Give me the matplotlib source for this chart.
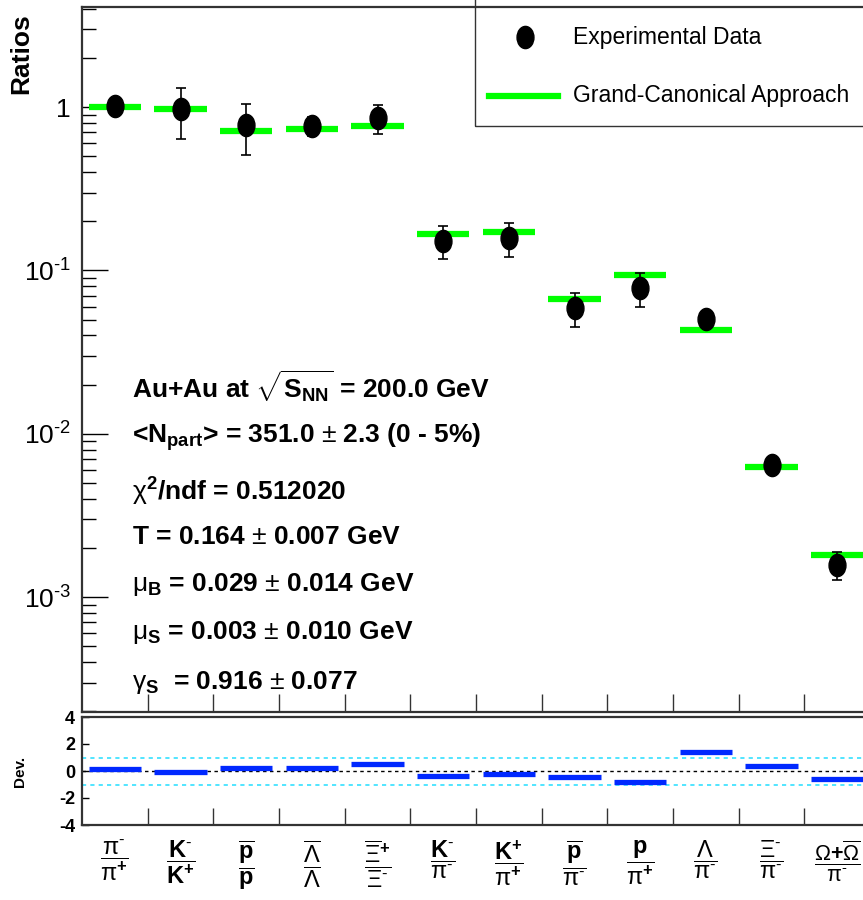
import numpy as np
import matplotlib
matplotlib.use('Agg')
import matplotlib.pyplot as plt
from matplotlib.path import Path
from matplotlib.patches import Rectangle
from matplotlib.ticker import FixedLocator, LogLocator, FuncFormatter, NullFormatter

plt.rcParams['font.family'] = ['Liberation Sans', 'DejaVu Sans']
plt.rcParams['mathtext.fontset'] = 'custom'
plt.rcParams['mathtext.rm'] = 'Liberation Sans'
plt.rcParams['mathtext.it'] = 'Liberation Sans:italic'
plt.rcParams['mathtext.bf'] = 'Liberation Sans:bold'
plt.rcParams['mathtext.default'] = 'regular'

# ratio labels (x axis)
ratio_labels = [
    r'$\dfrac{\mathrm{\pi}^{\text{-}}}{\mathrm{\pi}^{+}}$',
    r'$\dfrac{K^{\text{-}}}{K^{+}}$',
    r'$\dfrac{\overline{p}}{p}$',
    r'$\dfrac{\overline{\mathrm{\Lambda}}}{\mathrm{\Lambda}}$',
    r'$\dfrac{\overline{\mathrm{\Xi}}^{+}}{\mathrm{\Xi}^{\text{-}}}$',
    r'$\dfrac{K^{\text{-}}}{\mathrm{\pi}^{\text{-}}}$',
    r'$\dfrac{K^{+}}{\mathrm{\pi}^{+}}$',
    r'$\dfrac{\overline{p}}{\mathrm{\pi}^{\text{-}}}$',
    r'$\dfrac{p}{\mathrm{\pi}^{+}}$',
    r'$\dfrac{\mathrm{\Lambda}}{\mathrm{\pi}^{\text{-}}}$',
    r'$\dfrac{\mathrm{\Xi}^{\text{-}}}{\mathrm{\pi}^{\text{-}}}$',
    r'$\dfrac{\mathrm{\Omega}{+}\overline{\mathrm{\Omega}}}{\mathrm{\pi}^{\text{-}}}$',
]

# experimental data
data_val = [1.02, 0.97, 0.776, 0.765, 0.853, 0.152, 0.158, 0.059, 0.078, 0.0505, 0.00646, 0.00158]
data_err = [0.03, 0.33, 0.27, 0.10, 0.17, 0.034, 0.037, 0.014, 0.018, 0.003, 0.0004, 0.0003]

# grand-canonical fit
model_val = [1.0, 0.98, 0.716, 0.733, 0.768, 0.167, 0.172, 0.067, 0.094, 0.043, 0.0063, 0.0018]

# deviation (lower panel)
dev_val = [0.15, -0.05, 0.22, 0.22, 0.5, -0.35, -0.2, -0.45, -0.8, 1.43, 0.37, -0.57]

info_lines = [
    r'Au+Au at $\sqrt{S_{NN}}$ = 200.0 GeV',
    r'<N$_{part}$> = 351.0 $\mathrm{\pm}$ 2.3 (0 - 5%)',
    r'$\mathrm{\chi}^{2}$/ndf = 0.512020',
    r'T = 0.164 $\mathrm{\pm}$ 0.007 GeV',
    r'$\mathrm{\mu}_{B}$ = 0.029 $\mathrm{\pm}$ 0.014 GeV',
    r'$\mathrm{\mu}_{S}$ = 0.003 $\mathrm{\pm}$ 0.010 GeV',
    r'$\mathrm{\gamma}_{S}$  = 0.916 $\mathrm{\pm}$ 0.077',
]
info_y = [387, 437, 492, 537, 585, 632, 682]  # pixel rows

W, H = 863, 900
fig = plt.figure(figsize=(W / 100, H / 100), dpi=100)

def fbox(x0, y0, x1, y1):
    return [x0 / W, 1 - y1 / H, (x1 - x0) / W, (y1 - y0) / H]

ax = fig.add_axes(fbox(82, 7, 870, 712))
axd = fig.add_axes(fbox(82, 717, 870, 825))

x = np.arange(len(ratio_labels))
spine_col = '#333333'

# ellipse marker like ROOT's stretched circle
circ = Path.unit_circle()
ell = Path(circ.vertices * np.array([0.76, 1.0]), circ.codes)

ax.hlines(model_val, x - 0.4, x + 0.4, color='#00ff00', lw=4.5, zorder=2)
ax.errorbar(x, data_val, yerr=data_err, fmt='none', ecolor='black', elinewidth=1.2,
            capsize=3.5, capthick=1.2, zorder=3)
ax.plot(x, data_val, ls='none', marker=ell, ms=16, color='black', zorder=4)

ax.set_yscale('log')
ax.set_ylim(1.98e-4, 4.1)
ax.set_xlim(-0.5, len(x) - 0.5)

def logfmt(v, pos):
    e = int(round(np.log10(v)))
    if e == 0:
        return '1'
    return r'$10^{\text{-}%d}$' % (-e)

ax.yaxis.set_major_locator(LogLocator(base=10, numticks=10))
ax.yaxis.set_minor_locator(LogLocator(base=10, subs=np.arange(2, 10), numticks=10))
ax.yaxis.set_major_formatter(FuncFormatter(logfmt))
ax.yaxis.set_minor_formatter(NullFormatter())
ax.tick_params(axis='y', which='major', direction='in', length=19, width=1, labelsize=19,
               pad=8, color='black')
ax.tick_params(axis='y', which='minor', direction='in', length=10, width=1, color='black')

ax.xaxis.set_major_locator(FixedLocator(x))
ax.xaxis.set_minor_locator(FixedLocator(x[:-1] + 0.5))
ax.set_xticklabels([])
ax.tick_params(axis='x', which='major', length=0)
ax.tick_params(axis='x', which='minor', direction='in', length=13, width=1, color=spine_col)

for s in ax.spines.values():
    s.set_color(spine_col)
    s.set_linewidth(1.6)

ax.set_ylabel('Ratios', fontsize=19, fontweight='bold')
ax.yaxis.set_label_coords(-0.062, 0.934)

# legend box
ax.add_patch(Rectangle((0.4987, 0.831), 0.6, 0.2, transform=ax.transAxes, fill=False,
                       ec=spine_col, lw=1, zorder=5, clip_on=False))
ax.plot([0.562], [0.957], transform=ax.transAxes, ls='none', marker=ell, ms=16,
        color='black', zorder=6)
ax.plot([0.5165, 0.604], [0.874, 0.874], transform=ax.transAxes, color='#00ff00', lw=4.5, zorder=6)
ax.text(0.623, 0.957, 'Experimental Data', transform=ax.transAxes, fontsize=16.5,
        va='center', ha='left', zorder=6)
ax.text(0.623, 0.874, 'Grand-Canonical Approach', transform=ax.transAxes, fontsize=16.5,
        va='center', ha='left', zorder=6)

for txt, yp in zip(info_lines, info_y):
    fig.text(132 / W, 1 - yp / H, txt, fontsize=19, fontweight='bold', va='center', ha='left')

# deviation panel
axd.hlines(dev_val, x - 0.4, x + 0.4, color='#0028ff', lw=3.8, zorder=3)
axd.axhline(0, color='black', ls=(0, (2.5, 2.5)), lw=1, zorder=2)
axd.axhline(1, color='#33e0ff', ls=(0, (2.5, 2.5)), lw=1.2, zorder=2)
axd.axhline(-1, color='#33e0ff', ls=(0, (2.5, 2.5)), lw=1.2, zorder=2)
axd.set_ylim(-4, 4)
axd.set_xlim(-0.5, len(x) - 0.5)
axd.set_yticks([-4, -2, 0, 2, 4])
axd.set_yticklabels(['-4', '-2', '0', '2', '4'], fontweight='bold')
axd.tick_params(axis='y', direction='in', length=5, width=1, labelsize=13, pad=5)
axd.xaxis.set_major_locator(FixedLocator(x))
axd.xaxis.set_minor_locator(FixedLocator(x[:-1] + 0.5))
axd.set_xticklabels(ratio_labels, fontsize=17, fontweight='bold')
axd.get_xticklabels()[-1].set_fontsize(15.5)
axd.tick_params(axis='x', which='major', length=0, pad=10)
axd.tick_params(axis='x', which='minor', direction='in', length=12, width=1, color=spine_col)
for s in axd.spines.values():
    s.set_color(spine_col)
    s.set_linewidth(1.6)
axd.set_ylabel('Dev.', fontsize=11, fontweight='bold')
axd.yaxis.set_label_coords(-0.07, 0.5)

fig.savefig('out.png', dpi=100)
